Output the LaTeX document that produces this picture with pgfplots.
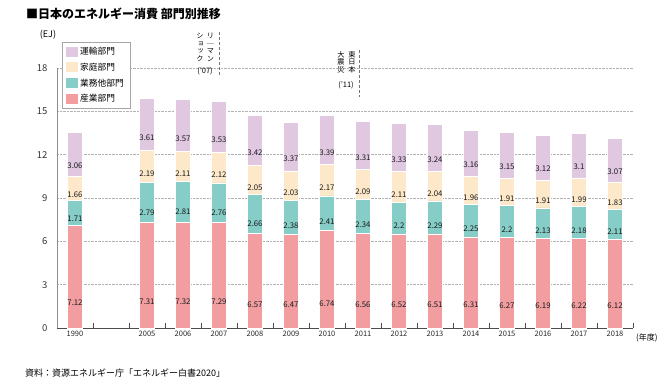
\documentclass[border=0pt]{standalone}
\usepackage{pgfplots}
\pgfplotsset{compat=1.18}
\usepackage{fontspec}
\setmainfont{Noto Sans CJK JP}
\newfontfamily\tate[RawFeature=+vert]{Noto Sans CJK JP}
\definecolor{cInd}{RGB}{242,158,161}
\definecolor{cBus}{RGB}{133,205,198}
\definecolor{cHome}{RGB}{253,233,201}
\definecolor{cTrans}{RGB}{224,200,224}
\definecolor{cTot}{RGB}{45,110,185}
\newcommand{\fs}[1]{\fontsize{#1}{#1}\selectfont}
\newcommand{\vt}{\tate\fontsize{7.2}{7.6}\selectfont\lineskiplimit=-10pt\lineskip=0pt}
\begin{document}
\begin{tikzpicture}[x=1pt,y=1pt]
\useasboundingbox (0,0) rectangle (665,389);
\begin{axis}[
  at={(57pt,61pt)}, anchor=south west,
  scale only axis, width=576pt, height=260pt,
  xmin=-0.5, xmax=15.5, ymin=0, ymax=18,
  enlargelimits=false,
  ybar stacked, bar width=14.5pt,
  axis lines*=left,
  x axis line style={-, draw=black!70},
  y axis line style={-, draw=black!45},
  ytick={0,3,...,18},
  ytick style={draw=none},
  yticklabel style={font=\fs{9.5}, xshift=-6pt, text=black!80},
  /pgf/number format/assume math mode=true,
  xtick={0,2,3,...,15},
  xticklabels={1990,2005,2006,2007,2008,2009,2010,2011,2012,2013,2014,2015,2016,2017,2018},
  xticklabel style={font=\fs{7.5}, text=black!85},
  major x tick style={draw=none},
  minor xtick={0.5,1.5,...,15.5},
  minor tick length=5pt,
  tick align=inside,
  minor x tick style={draw=black!70},
  ymajorgrids,
  grid style={densely dotted, black!30},
  axis on top=false,
  point meta=explicit symbolic,
  legend style={at={(0.0087,1.1)}, anchor=north west, draw=black!35,
    font=\fs{8.7}, row sep=3pt, inner xsep=4pt, inner ysep=3pt,
    legend cell align=left},
  reverse legend,
  legend image code/.code={\fill[#1,draw=none] (0pt,-5pt) rectangle (12pt,5pt);},
  seg/.style={draw=white, line width=0.6pt, nodes near coords,
    every node near coord/.append style={anchor=center, font=\fs{7.8},
      text=black!90, yshift=-\pgfplotspointmeta*3.6111pt}},
]
\addplot[seg, fill=cInd] coordinates {
(0,7.12)[7.12] (2,7.31)[7.31] (3,7.32)[7.32] (4,7.29)[7.29] (5,6.57)[6.57]
(6,6.47)[6.47] (7,6.74)[6.74] (8,6.56)[6.56] (9,6.52)[6.52] (10,6.51)[6.51]
(11,6.31)[6.31] (12,6.27)[6.27] (13,6.19)[6.19] (14,6.22)[6.22] (15,6.12)[6.12]};
\addlegendentry{産業部門}
\addplot[seg, fill=cBus] coordinates {
(0,1.71)[1.71] (2,2.79)[2.79] (3,2.81)[2.81] (4,2.76)[2.76] (5,2.66)[2.66]
(6,2.38)[2.38] (7,2.41)[2.41] (8,2.34)[2.34] (9,2.2)[2.2] (10,2.29)[2.29]
(11,2.25)[2.25] (12,2.2)[2.2] (13,2.13)[2.13] (14,2.18)[2.18] (15,2.11)[2.11]};
\addlegendentry{業務他部門}
\addplot[seg, fill=cHome] coordinates {
(0,1.66)[1.66] (2,2.19)[2.19] (3,2.11)[2.11] (4,2.12)[2.12] (5,2.05)[2.05]
(6,2.03)[2.03] (7,2.17)[2.17] (8,2.09)[2.09] (9,2.11)[2.11] (10,2.04)[2.04]
(11,1.96)[1.96] (12,1.91)[1.91] (13,1.91)[1.91] (14,1.99)[1.99] (15,1.83)[1.83]};
\addlegendentry{家庭部門}
\addplot[seg, fill=cTrans] coordinates {
(0,3.06)[3.06] (2,3.61)[3.61] (3,3.57)[3.57] (4,3.53)[3.53] (5,3.42)[3.42]
(6,3.37)[3.37] (7,3.39)[3.39] (8,3.31)[3.31] (9,3.33)[3.33] (10,3.24)[3.24]
(11,3.16)[3.16] (12,3.15)[3.15] (13,3.12)[3.12] (14,3.1)[3.1] (15,3.07)[3.07]};
\addlegendentry{運輸部門}
\addplot[draw=none, fill=none, forget plot, nodes near coords,
  every node near coord/.append style={anchor=south, font=\fs{8}, text=cTot, yshift=1.5pt}]
coordinates {
(0,0)[13.55] (2,0)[15.90] (3,0)[15.81] (4,0)[15.70] (5,0)[14.70]
(6,0)[14.25] (7,0)[14.71] (8,0)[14.31] (9,0)[14.15] (10,0)[14.09]
(11,0)[13.69] (12,0)[13.52] (13,0)[13.36] (14,0)[13.49] (15,0)[13.12]};
\end{axis}
% titles and notes
\node[anchor=west, font=\fs{12}\bfseries, inner sep=0] at (26,375) {■日本のエネルギー消費 部門別推移};
\node[font=\fs{9}, inner sep=0] at (48,354) {(EJ)};
\node[anchor=west, font=\fs{8}, inner sep=0] at (636,51) {(年度)};
\node[anchor=west, font=\fs{9}, inner sep=0] at (25,16) {資料：資源エネルギー庁「エネルギー白書2020」};
% Lehman shock
\node[anchor=north, font=\vt, align=center, inner sep=0] at (210.5,356) {リ\\｜\\マ\\ン};
\node[anchor=north, font=\vt, align=center, inner sep=0] at (200,356) {シ\\ョ\\ッ\\ク};
\node[font=\fs{7.5}, inner sep=0] at (205,318) {(’07)};
\draw[black!55, densely dashed, line width=0.4pt] (219,357) -- (219,314);
% Great East Japan Earthquake
\node[anchor=north, font=\vt, align=center, inner sep=0] at (352,338) {東\\日\\本};
\node[anchor=north, font=\vt, align=center, inner sep=0] at (341,338) {大\\震\\災};
\node[font=\fs{7.5}, inner sep=0] at (346,304) {(’11)};
\draw[black!55, densely dashed, line width=0.4pt] (359,339) -- (359,292);
\end{tikzpicture}
\end{document}
